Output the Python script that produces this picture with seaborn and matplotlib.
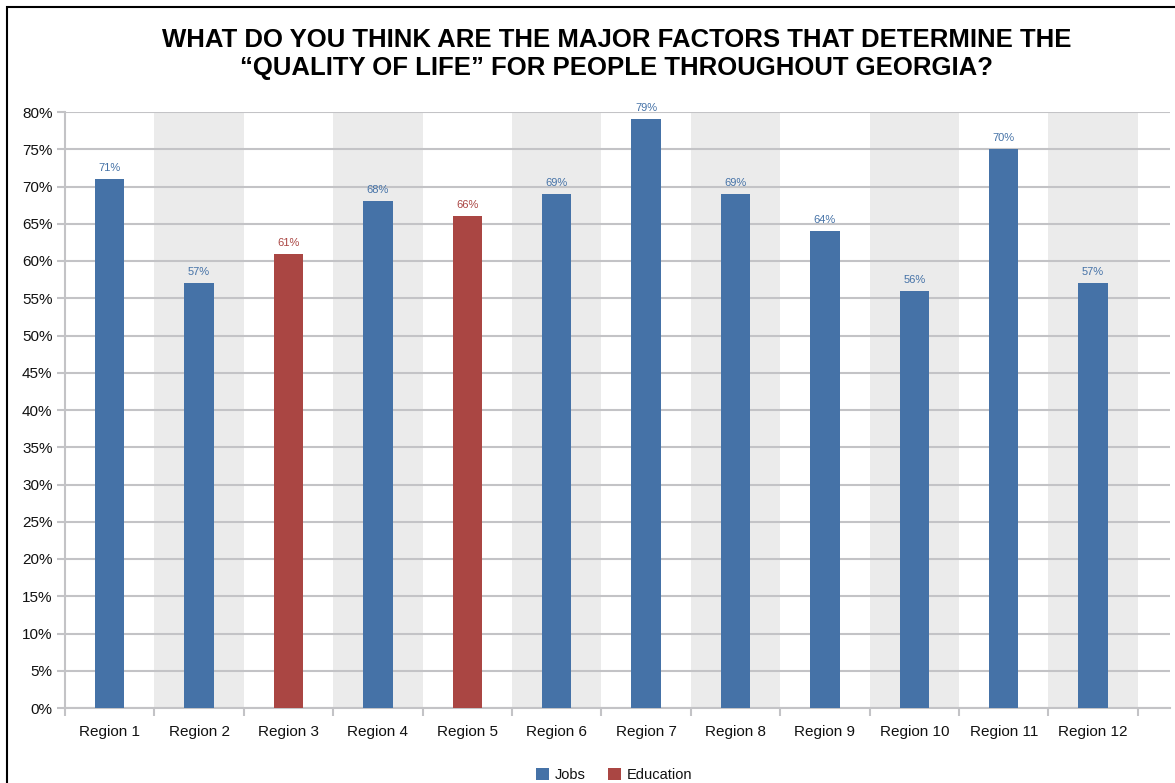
import numpy as np
import pandas as pd
import matplotlib.pyplot as plt
import seaborn as sns
from matplotlib.patches import Rectangle

# Data
regions = [f"Region {i}" for i in range(1, 13)]
factors = ["Jobs", "Jobs", "Education", "Jobs", "Education", "Jobs",
           "Jobs", "Jobs", "Jobs", "Jobs", "Jobs", "Jobs"]
values = [71, 57, 61, 68, 66, 69, 79, 69, 64, 56, 75, 57]
value_labels = ["71%", "57%", "61%", "68%", "66%", "69%",
                "79%", "69%", "64%", "56%", "70%", "57%"]

COLORS = {"Jobs": "#4572A7", "Education": "#AA4643"}
GRID = "#C3C3C6"

df = pd.DataFrame({"region": regions, "factor": factors, "value": np.array(values) / 100})

sns.set_theme(style="white")
plt.rcParams['font.family'] = ['Liberation Sans', 'DejaVu Sans']

fig = plt.figure(figsize=(11.75, 7.83), dpi=100)
ax = fig.add_axes([65 / 1175, 1 - 708 / 783, (1170 - 65) / 1175, (708 - 112) / 783])

# alternating shaded bands
for i in range(1, len(regions), 2):
    ax.axvspan(i - 0.5, i + 0.5, color="#EBEBEB", zorder=0, lw=0)

sns.barplot(data=df, x="region", y="value", hue="factor", palette=COLORS,
            dodge=False, width=0.33, saturation=1, ax=ax, zorder=3, legend=True,
            linewidth=0, edgecolor="none")

ax.set_ylim(0, 0.8)
ax.set_xlim(-0.5, 11.86)
ax.set_yticks(np.arange(0, 0.81, 0.05))
ax.set_yticklabels([f"{int(round(t * 100))}%" for t in np.arange(0, 0.81, 0.05)])
ax.yaxis.grid(True, color=GRID, lw=1.5, zorder=1)
ax.set_axisbelow(True)
ax.set_xlabel("")
ax.set_ylabel("")

# x ticks at category boundaries, labels centred
ax.set_xticks(np.arange(len(regions)))
ax.set_xticklabels(regions)
ax.set_xticks(np.arange(-0.5, len(regions) + 0.5, 1), minor=True)
ax.tick_params(axis="x", which="major", length=0, pad=12, labelsize=11, labelcolor="#111111")
ax.tick_params(axis="x", which="minor", length=6, width=1.5, color=GRID, direction="out", bottom=True)
ax.tick_params(axis="y", length=6, width=1.5, color=GRID, labelsize=11, labelcolor="#111111", left=True, pad=3)

for s in ["top", "right"]:
    ax.spines[s].set_visible(False)
for s in ["left", "bottom"]:
    ax.spines[s].set_color(GRID)
    ax.spines[s].set_linewidth(1.5)

for i, (v, lab, f) in enumerate(zip(values, value_labels, factors)):
    ax.text(i, v / 100 + 0.008, lab, ha="center", va="bottom", fontsize=8, color=COLORS[f])

# legend at the bottom
handles, labels = ax.get_legend_handles_labels()
ax.legend_.remove()
fig.legend(handles, labels, loc="center", bbox_to_anchor=(614 / 1175, 1 - 775 / 783), ncol=2,
           frameon=False, fontsize=10.5, handlelength=0.9, handleheight=0.9,
           handletextpad=0.4, columnspacing=1.5, labelcolor="#111111")

fig.text(0.525, 1 - 54 / 783, "WHAT DO YOU THINK ARE THE MAJOR FACTORS THAT DETERMINE THE\n"
         "\u201cQUALITY OF LIFE\u201d FOR PEOPLE THROUGHOUT GEORGIA?",
         ha="center", va="center", fontsize=18.5, fontweight="bold", color="black",
         family=["Liberation Sans", "DejaVu Sans"], linespacing=1.2)

# outer frame (top and left edges visible in crop)
fig.patches.append(Rectangle((7 / 1175, -0.1), 1.2, 1 - 7 / 783 + 0.1, transform=fig.transFigure,
                             fill=False, edgecolor="black", lw=1.5))

fig.savefig("out.png", dpi=100)
